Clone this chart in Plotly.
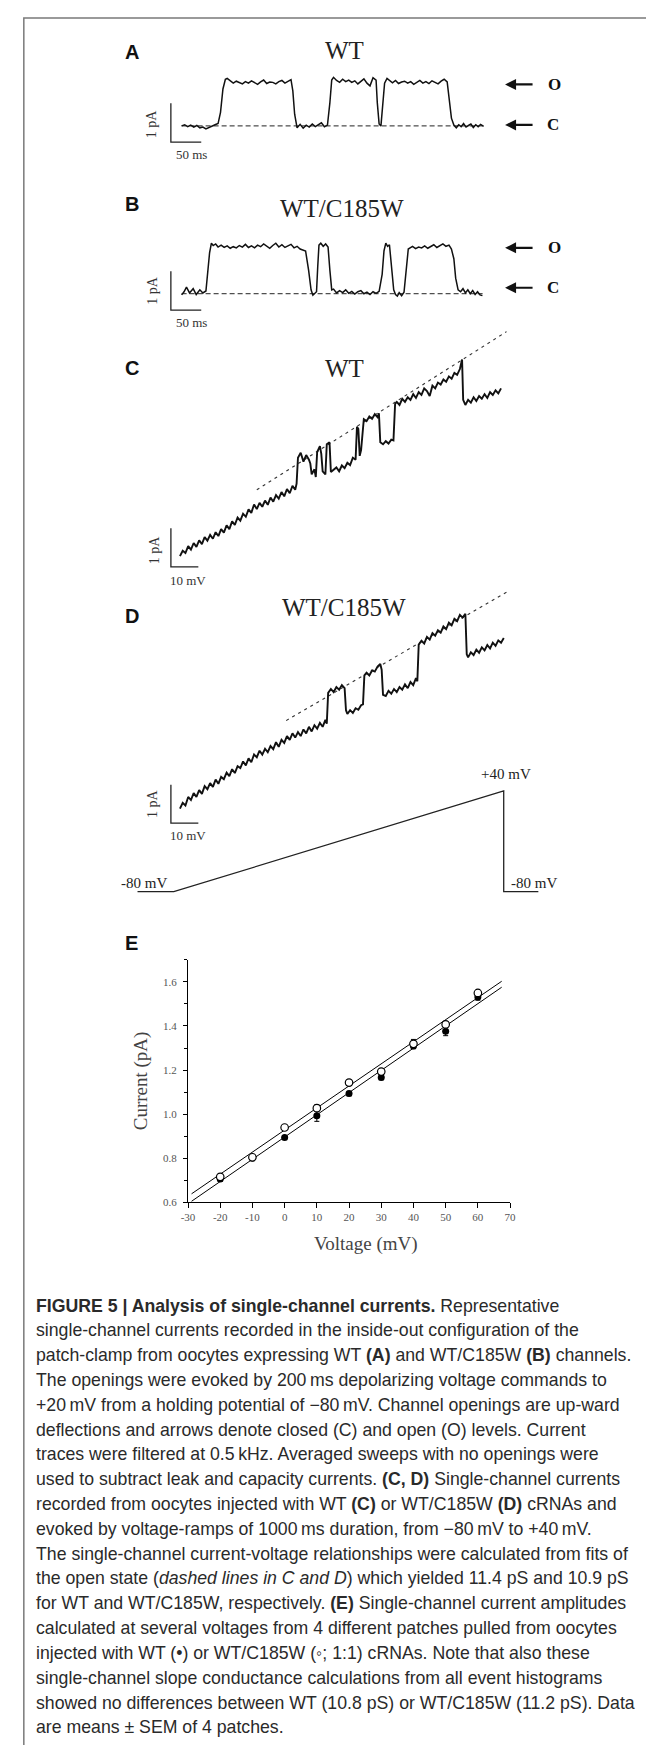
import plotly.graph_objects as go

W, H = 654, 1745

# ---------------- DATA ----------------
# Panel A: WT single-channel recording at +20 mV  (time ms, current pA)
a_trace = [(0,0.00),(5,0.03),(10,-0.02),(15,0.02),(20,-0.03),(25,0.01),(30,-0.05),(35,-0.03),(40,-0.08),(45,-0.04),
           (50,0.01),(55,0.03),(60,0.06),(64,0.35),(68,0.95),(72,1.20),(75,1.22),(80,1.16),(85,1.10),(90,1.15),
           (95,1.12),(100,1.08),(105,1.14),(110,1.10),(115,1.16),(120,1.12),(125,1.07),(130,1.13),(135,1.18),(140,1.09),
           (145,1.13),(150,1.12),(155,1.08),(160,1.14),(165,1.17),(170,1.10),(175,1.15),(180,1.19),(183,0.90),(186,0.30),
           (190,-0.05),(195,0.04),(200,-0.06),(205,0.02),(210,-0.03),(215,0.05),(220,-0.02),(225,0.03),(230,0.08),(235,-0.02),
           (240,0.02),(244,0.60),(247,1.18),(250,1.25),(255,1.17),(260,1.12),(265,1.20),(270,1.14),(275,1.18),(280,1.12),
           (285,1.16),(290,1.08),(295,1.15),(300,1.21),(305,1.10),(310,1.03),(315,1.24),(320,1.18),(322,0.60),(325,0.05),
           (328,0.00),(331,0.50),(334,1.10),(338,1.22),(342,1.16),(347,1.11),(352,1.17),(357,1.09),(362,1.13),(367,1.15),
           (372,1.10),(377,1.14),(382,1.07),(387,1.12),(392,1.17),(397,1.10),(402,1.14),(407,1.09),(412,1.16),(417,1.12),
           (422,1.08),(427,1.15),(432,1.20),(437,1.13),(440,0.75),(444,0.20),(448,0.02),(452,-0.05),(456,0.03),(460,-0.02),
           (464,0.06),(468,-0.03),(472,0.01),(476,0.05),(480,-0.04),(484,0.03),(488,-0.02),(492,0.04),(497,-0.01)]
# Panel B: WT/C185W single-channel recording
b_trace = [(0,-0.03),(4,0.05),(8,0.17),(13,0.02),(19,0.13),(24,-0.02),(30,0.10),(35,0.02),(40,0.07),(43,0.50),
           (46,1.05),(49,1.30),(52,1.24),(56,1.28),(60,1.20),(65,1.25),(70,1.19),(75,1.23),(80,1.17),(85,1.21),
           (90,1.18),(95,1.24),(100,1.20),(105,1.27),(110,1.19),(115,1.23),(120,1.18),(125,1.25),(130,1.21),(135,1.28),
           (140,1.22),(145,1.17),(150,1.24),(155,1.30),(160,1.20),(165,1.26),(170,1.19),(175,1.23),(180,1.27),(185,1.18),
           (190,1.22),(195,1.15),(200,1.12),(204,1.10),(209,0.60),(213,0.10),(216,-0.04),(219,0.00),(222,0.05),(224,0.70),
           (226,1.25),(229,1.30),(233,1.22),(237,1.28),(241,1.20),(244,0.60),(247,0.10),(250,0.12),(255,0.02),(260,0.08),
           (265,0.03),(270,0.10),(275,0.01),(280,0.06),(285,-0.01),(290,0.05),(295,0.08),(300,0.00),(305,0.04),(310,-0.02),
           (315,0.05),(320,0.01),(325,0.06),(330,0.50),(333,1.10),(336,1.30),(339,1.22),(342,1.26),(346,0.60),(349,0.10),
           (352,-0.02),(355,-0.06),(358,0.03),(362,-0.05),(366,0.04),(370,0.60),(373,1.15),(376,1.18),(380,1.22),(385,1.16),
           (390,1.20),(395,1.18),(400,1.23),(405,1.17),(410,1.21),(415,1.26),(420,1.19),(425,1.24),(430,1.28),(435,1.22),
           (440,1.25),(444,1.15),(448,0.90),(451,0.40),(455,0.10),(459,0.05),(463,0.13),(467,0.02),(471,0.10),(475,0.00),
           (479,0.08),(483,-0.02),(487,0.05),(491,-0.03),(495,-0.05)]
closed_time = [0, 497]
closed_level = [0, 0]

# Panel C: WT ramp current (voltage mV, current pA)
c_trace = [(-80,0.00),(-79,0.14),(-78,0.08),(-77,0.26),(-76,0.17),(-75,0.34),(-74,0.24),(-73,0.41),(-72,0.31),(-71,0.49),
           (-70,0.40),(-69,0.55),(-68,0.45),(-67,0.62),(-66,0.52),(-65,0.70),(-64,0.61),(-63,0.80),(-62,0.70),(-61,0.90),
           (-60,0.81),(-59,1.00),(-58,0.92),(-57,1.10),(-56,1.02),(-55,1.21),(-54,1.12),(-53,1.34),(-52,1.22),(-51,1.38),
           (-50,1.28),(-49,1.44),(-48,1.33),(-47,1.52),(-46,1.41),(-45,1.58),(-44,1.49),(-43,1.66),(-42,1.55),(-41,1.74),
           (-40,1.63),(-39,1.82),(-38,1.72),(-37.5,1.88),(-37,2.55),(-36,2.68),(-35,2.45),(-34,2.62),(-33,2.50),(-32.5,2.40),
           (-32,2.12),(-31,2.25),(-30.5,2.05),(-30,2.70),(-29,2.85),(-28.5,2.65),(-28,2.20),(-27,2.12),(-26.5,2.90),(-25.5,2.95),
           (-25,2.18),(-24,2.25),(-23,2.30),(-22,2.20),(-21,2.35),(-20,2.28),(-19,2.42),(-18,2.36),(-17,2.55),(-16,2.50),
           (-15.5,3.35),(-15,3.30),(-14.5,2.60),(-14,2.75),(-13.3,3.45),(-13,3.55),(-12,3.50),(-11,3.62),(-10,3.56),(-9,3.68),
           (-8,3.60),(-7.5,3.70),(-7,2.95),(-6,2.90),(-5,2.98),(-4,2.92),(-3,3.02),(-2.2,3.00),(-1.6,3.95),(-1,4.00),
           (0,3.92),(1,4.08),(2,4.00),(3,4.12),(4,4.05),(5,4.20),(6,4.10),(7,4.25),(8,4.18),(9,4.35),
           (10,4.28),(11,4.15),(12,4.42),(13,4.35),(14,4.50),(15,4.45),(16,4.58),(17,4.52),(18,4.66),(19,4.60),
           (20,4.75),(21,4.70),(22,4.85),(22.8,5.10),(23.2,4.05),(24,3.92),(25,4.05),(26,3.98),(27,4.12),(28,4.02),
           (29,4.15),(30,4.08),(31,4.20),(32,4.10),(33,4.25),(34,4.18),(35,4.30),(36,4.22),(37,4.35)]
c_fit_voltage = [-52, 39]
c_fit_current = [1.72, 5.82]

# Panel D: WT/C185W ramp current
d_trace = [(-80,0.00),(-79,0.15),(-78,0.08),(-77,0.30),(-76,0.22),(-75,0.40),(-74,0.30),(-73,0.48),(-72,0.38),(-71,0.58),
           (-70,0.50),(-69,0.66),(-68,0.56),(-67,0.75),(-66,0.64),(-65,0.82),(-64,0.76),(-63,0.93),(-62,0.84),(-61,1.02),
           (-60,0.92),(-59,1.10),(-58,1.05),(-57,1.22),(-56,1.12),(-55,1.30),(-54,1.20),(-53,1.40),(-52,1.33),(-51,1.50),
           (-50,1.40),(-49,1.55),(-48,1.46),(-47,1.62),(-46,1.54),(-45,1.72),(-44,1.60),(-43,1.78),(-42,1.70),(-41,1.88),
           (-40,1.78),(-39,1.95),(-38,1.84),(-37,1.98),(-36,1.88),(-35,2.05),(-34,1.95),(-33,2.12),(-32,2.00),(-31,2.16),
           (-30,2.07),(-29,2.22),(-28,2.12),(-27,2.30),(-26.5,2.20),(-26,3.00),(-25,3.10),(-24,3.02),(-23,3.15),(-22,3.08),
           (-21,3.20),(-20,3.12),(-19.5,2.55),(-19,2.45),(-18,2.55),(-17,2.48),(-16,2.60),(-15,2.56),(-14,2.68),(-13.3,2.70),
           (-12.8,3.45),(-12,3.52),(-11,3.45),(-10,3.58),(-9,3.55),(-8,3.68),(-7,3.75),(-6.5,3.60),(-6,2.95),(-5,2.92),
           (-4,3.05),(-3,2.98),(-2,3.10),(-1,3.02),(0,3.15),(1,3.08),(2,3.22),(3,3.12),(4,3.28),(5,3.20),
           (6,3.38),(6.5,3.30),(7,4.25),(8,4.35),(9,4.28),(10,4.45),(11,4.38),(12,4.55),(13,4.48),(14,4.62),
           (15,4.56),(16,4.72),(17,4.65),(18,4.82),(19,4.75),(20,4.92),(21,4.86),(22,5.02),(23,4.95),(24,5.05),
           (24.5,4.00),(25,3.92),(26,4.05),(27,3.98),(28,4.12),(29,4.04),(30,4.18),(31,4.10),(32,4.24),(33,4.15),
           (34,4.30),(35,4.22),(36,4.36),(37,4.30),(38,4.42)]
d_fit_voltage = [-41.3, 39.2]
d_fit_current = [2.28, 5.62]

# Ramp protocol (time ms, command voltage mV)
ramp_time = [0, 110, 1110, 1110, 1215]
ramp_voltage = [-80, -80, 40, -80, -80]

# Panel E: single-channel I-V
e_voltage = [-20, -10, 0, 10, 20, 30, 40, 50, 60]
e_wt = [0.705, 0.800, 0.894, 0.992, 1.093, 1.166, 1.309, 1.376, 1.532]
e_wt_sem = [0.010, 0.006, 0.008, 0.025, 0.010, 0.010, 0.012, 0.020, 0.015]
e_mut = [0.715, 0.804, 0.939, 1.027, 1.143, 1.193, 1.319, 1.407, 1.550]
e_mut_sem = [0.010, 0.006, 0.008, 0.015, 0.010, 0.010, 0.020, 0.012, 0.012]
e_fit_voltage = [-28.9, 67.4]
e_fit_wt = [0.604, 1.576]
e_fit_mut = [0.638, 1.603]

x_tick_vals = [-30, -20, -10, 0, 10, 20, 30, 40, 50, 60, 70]
x_tick_text = ["-30", "-20", "-10", "0", "10", "20", "30", "40", "50", "60", "70"]
y_tick_vals = [0.6, 0.8, 1.0, 1.2, 1.4, 1.6]
y_tick_text = ["0.6", "0.8", "1.0", "1.2", "1.4", "1.6"]
y_minor_vals = [0.7, 0.9, 1.1, 1.3, 1.5, 1.7]

caption_lines = [
    "<b>FIGURE 5 | Analysis of single-channel currents.</b> Representative",
    "single-channel currents recorded in the inside-out configuration of the",
    "patch-clamp from oocytes expressing WT <b>(A)</b> and WT/C185W <b>(B)</b> channels.",
    "The openings were evoked by 200\u2009ms depolarizing voltage commands to",
    "+20\u2009mV from a holding potential of \u221280\u2009mV. Channel openings are up-ward",
    "deflections and arrows denote closed (C) and open (O) levels. Current",
    "traces were filtered at 0.5\u2009kHz. Averaged sweeps with no openings were",
    "used to subtract leak and capacity currents. <b>(C, D)</b> Single-channel currents",
    "recorded from oocytes injected with WT <b>(C)</b> or WT/C185W <b>(D)</b> cRNAs and",
    "evoked by voltage-ramps of 1000\u2009ms duration, from \u221280\u2009mV to +40\u2009mV.",
    "The single-channel current-voltage relationships were calculated from fits of",
    "the open state (<i>dashed lines in C and D</i>) which yielded 11.4 pS and 10.9 pS",
    "for WT and WT/C185W, respectively. <b>(E)</b> Single-channel current amplitudes",
    "calculated at several voltages from 4 different patches pulled from oocytes",
    "injected with WT (\u2022) or WT/C185W (\u25e6; 1:1) cRNAs. Note that also these",
    "single-channel slope conductance calculations from all event histograms",
    "showed no differences between WT (10.8 pS) or WT/C185W (11.2 pS). Data",
    "are means \u00b1 SEM of 4 patches.",
]

# ---------------- LAYOUT GEOMETRY (pixels) ----------------
SERIF = "Liberation Serif, Times New Roman, serif"
SANS = "Liberation Sans, Arial, sans-serif"
INK = "#111111"

# each panel: origin px, px per unit, axis ranges
geo = {
    "A": dict(ox=170.0, sx=0.62, oy=118.3, sy=39.0, xr=[-25, 560], yr=[-0.55, 1.5]),
    "B": dict(ox=170.0, sx=0.62, oy=286.7, sy=39.0, xr=[-25, 560], yr=[-0.55, 1.5]),
    "C": dict(ox=392.3, sx=2.8, oy=550.0, sy=38.7, xr=[-90, 42], yr=[-0.6, 6.1]),
    "D": dict(ox=392.3, sx=2.8, oy=803.3, sy=38.7, xr=[-90, 42], yr=[-0.6, 6.1]),
    "R": dict(ox=125.0, sx=0.3366, oy=819.34, sy=0.842, xr=[-60, 1300], yr=[-95, 55]),
    "E": dict(ox=275.1, sx=3.286, oy=1330.9, sy=221.0, xr=[-30, 70], yr=[0.6, 1.7]),
}
order = ["A", "B", "C", "D", "R", "E"]


def domains(g):
    x0 = g["ox"] + g["xr"][0] * g["sx"]
    x1 = g["ox"] + g["xr"][1] * g["sx"]
    y0 = g["oy"] - g["yr"][0] * g["sy"]
    y1 = g["oy"] - g["yr"][1] * g["sy"]
    return [x0 / W, x1 / W], [1 - y0 / H, 1 - y1 / H]


layout = dict(width=W, height=H, margin=dict(l=0, r=0, t=0, b=0),
              paper_bgcolor="white", plot_bgcolor="rgba(0,0,0,0)", showlegend=False)
ax = {}
for i, k in enumerate(order):
    n = "" if i == 0 else str(i + 1)
    ax[k] = ("x" + n, "y" + n)
    xd, yd = domains(geo[k])
    layout["xaxis" + n] = dict(domain=xd, range=geo[k]["xr"], anchor="y" + n, visible=False, fixedrange=True)
    layout["yaxis" + n] = dict(domain=yd, range=geo[k]["yr"], anchor="x" + n, visible=False, fixedrange=True)

# panel E axes are visible
nE = str(order.index("E") + 1)
tickfont = dict(family=SERIF, size=11, color="#555555")
layout["xaxis" + nE].update(visible=True, showline=True, linecolor="black", linewidth=1,
                            ticks="outside", ticklen=5, tickwidth=1, tickcolor="black",
                            tickvals=x_tick_vals, ticktext=x_tick_text, tickfont=tickfont,
                            showgrid=False, zeroline=False)
layout["yaxis" + nE].update(visible=True, showline=True, linecolor="black", linewidth=1,
                            ticks="outside", ticklen=4, tickwidth=1, tickcolor="black",
                            tickvals=y_tick_vals, ticktext=y_tick_text, tickfont=tickfont,
                            ticklabelstandoff=4,
                            minor=dict(tickvals=y_minor_vals, ticks="outside", ticklen=3,
                                       tickcolor="black", tickwidth=1),
                            showgrid=False, zeroline=False)

fig = go.Figure()


def add_line(xs, ys, k, width=1.4, dash=None, color=INK):
    fig.add_trace(go.Scatter(x=list(xs), y=list(ys), mode="lines", xaxis=ax[k][0], yaxis=ax[k][1],
                             line=dict(color=color, width=width, dash=dash), hoverinfo="skip"))


# A & B
for k, tr in (("A", a_trace), ("B", b_trace)):
    add_line(closed_time, closed_level, k, width=1, dash="5px,3px", color="#222")
    t, cur = zip(*tr)
    add_line(t, cur, k, width=1.5)

# C & D
for k, tr, fv, fc in (("C", c_trace, c_fit_voltage, c_fit_current),
                      ("D", d_trace, d_fit_voltage, d_fit_current)):
    add_line(fv, fc, k, width=1.1, dash="3px,4px", color="#333")
    v, cur = zip(*tr)
    add_line(v, cur, k, width=1.9)

# ramp protocol
add_line(ramp_time, ramp_voltage, "R", width=1.3, color="#222")

# E
xE, yE = ax["E"]
fig.add_trace(go.Scatter(x=e_fit_voltage, y=e_fit_wt, mode="lines", xaxis=xE, yaxis=yE,
                         line=dict(color="black", width=1), hoverinfo="skip"))
fig.add_trace(go.Scatter(x=e_fit_voltage, y=e_fit_mut, mode="lines", xaxis=xE, yaxis=yE,
                         line=dict(color="black", width=1), hoverinfo="skip"))
fig.add_trace(go.Scatter(x=e_voltage, y=e_wt, mode="markers", xaxis=xE, yaxis=yE,
                         marker=dict(symbol="circle", size=7, color="black"),
                         error_y=dict(type="data", array=e_wt_sem, thickness=1, width=2.5, color="black"),
                         hoverinfo="skip"))
fig.add_trace(go.Scatter(x=e_voltage, y=e_mut, mode="markers", xaxis=xE, yaxis=yE,
                         marker=dict(symbol="circle", size=7.5, color="white", line=dict(color="black", width=1.2)),
                         error_y=dict(type="data", array=e_mut_sem, thickness=1, width=2.5, color="black"),
                         hoverinfo="skip"))

# ---------------- shapes: scale bars & border ----------------
shapes = []
scale_bars = {  # (x position, y bottom, x length, y length) in data units
    "A": (-17.7, -0.42, 50, 1.0),
    "B": (-17.7, -0.42, 50, 1.0),
    "C": (-83.3, -0.28, 10, 1.0),
    "D": (-83.3, -0.38, 10, 1.0),
}
for k, (x0, y0, lx, ly) in scale_bars.items():
    shapes.append(dict(type="path", xref=ax[k][0], yref=ax[k][1],
                       path=f"M {x0},{y0 + ly} L {x0},{y0} L {x0 + lx},{y0}",
                       line=dict(color="#222", width=1.3)))
shapes.append(dict(type="path", xref="paper", yref="paper",
                   path=f"M {9/W},0 L {9/W},{1-10/H} L 1,{1-10/H}",
                   line=dict(color="#7a7a7a", width=1.5)))
layout["shapes"] = shapes

# ---------------- annotations ----------------
ann = []


def txt(s, px, py, size, family=SERIF, color="#222", angle=0, xa="center", ya="middle"):
    ann.append(dict(text=s, x=px / W, y=1 - py / H, xref="paper", yref="paper", showarrow=False,
                    font=dict(size=size, family=family, color=color), textangle=angle,
                    xanchor=xa, yanchor=ya))


def arrow(px, py, length):
    ann.append(dict(text="", x=px / W, y=1 - py / H, xref="paper", yref="paper", showarrow=True,
                    ax=length, ay=0, arrowhead=2, arrowsize=1, arrowwidth=2.2, arrowcolor="#111",
                    standoff=0))


for lab, py in (("A", 44), ("B", 197), ("C", 361), ("D", 610), ("E", 938)):
    txt("<b>" + lab + "</b>", 119, py, 20, family=SANS, color="#111")

txt("WT", 336, 43, 25)
txt("WT/C185W", 334, 201, 25)
txt("WT", 336, 362, 25)
txt("WT/C185W", 336, 602, 25)

# O / C arrows
for py_o, py_c in ((76.7, 117.3), (240.7, 280.7)):
    arrow(500, py_o, 29)
    arrow(500, py_c, 29)
    txt("<b>O</b>", 550, py_o, 17, color="#111")
    txt("<b>C</b>", 549, py_c, 17, color="#111")

# scale bar labels
txt("1 pA", 139, 116.5, 14, color="#333", angle=-90)
txt("50 ms", 180, 147.5, 13, color="#333")
txt("1 pA", 139.5, 283, 14, color="#333", angle=-90)
txt("50 ms", 180, 316, 13, color="#333")
txt("1 pA", 142, 544, 14, color="#333", angle=-90)
txt("10 mV", 177, 574, 13, color="#333")
txt("1 pA", 141, 798.5, 14, color="#333", angle=-90)
txt("10 mV", 177, 830, 13, color="#333")

# ramp labels
txt("+40 mV", 501, 769, 15, color="#222")
txt("-80 mV", 132, 878, 15, color="#222")
txt("-80 mV", 530, 878, 15, color="#222")

# panel E axis titles
txt("Current (pA)", 128.5, 1076, 19, color="#444", angle=-90)
txt("Voltage (mV)", 358, 1240, 19, color="#444")

# caption
for i, line in enumerate(caption_lines):
    txt(line, 19, 1302 + i * 24.9, 17.7, family=SANS, color="#2a2a2a", xa="left")

layout["annotations"] = ann
fig.update_layout(**layout)
fig.write_html("out.html")
